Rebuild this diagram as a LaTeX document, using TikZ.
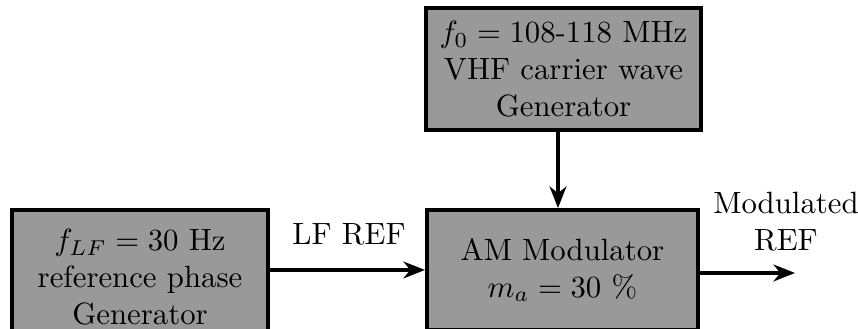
\documentclass[tikz,border=0pt]{standalone}
\usetikzlibrary{arrows.meta,calc}
\begin{document}
\begin{tikzpicture}[x=0.325pt,y=-0.325pt,
  blockbox/.style={draw=black,line width=1.3pt,fill=black!40,align=center,inner sep=0pt},
  conn/.style={line width=1pt,-{Stealth[length=7pt,width=5.5pt,inset=2.2pt]}},
  lbl/.style={align=center,inner sep=0pt}]
\useasboundingbox (0,0) rectangle (858,329);
\node[blockbox,minimum width=89.4pt,minimum height=39.6pt] (vhf) at (563.5,69)
  {$f_0=108$-$118$ MHz\\VHF carrier wave\\Generator};
\node[blockbox,minimum width=88.1pt,minimum height=39pt] (am) at (562.5,270)
  {AM Modulator\\$m_a=30$ \%};
\node[blockbox,minimum width=83.2pt,minimum height=43.5pt] (lf) at (140,277)
  {$f_{LF}=30$ Hz\\reference phase\\Generator};
\coordinate (dn) at (558,0);
\coordinate (out) at (795,273);
\draw[conn] (lf.east |- am.west) -- (am.west);
\draw[conn] (vhf.south -| dn) -- (am.north -| dn);
\draw[conn] (am.east |- out) -- (out);
\node[lbl] (lfref) at (349,234) {LF REF};
\node[lbl] (modref) at (786,222) {Modulated\\REF};
\end{tikzpicture}
\end{document}
